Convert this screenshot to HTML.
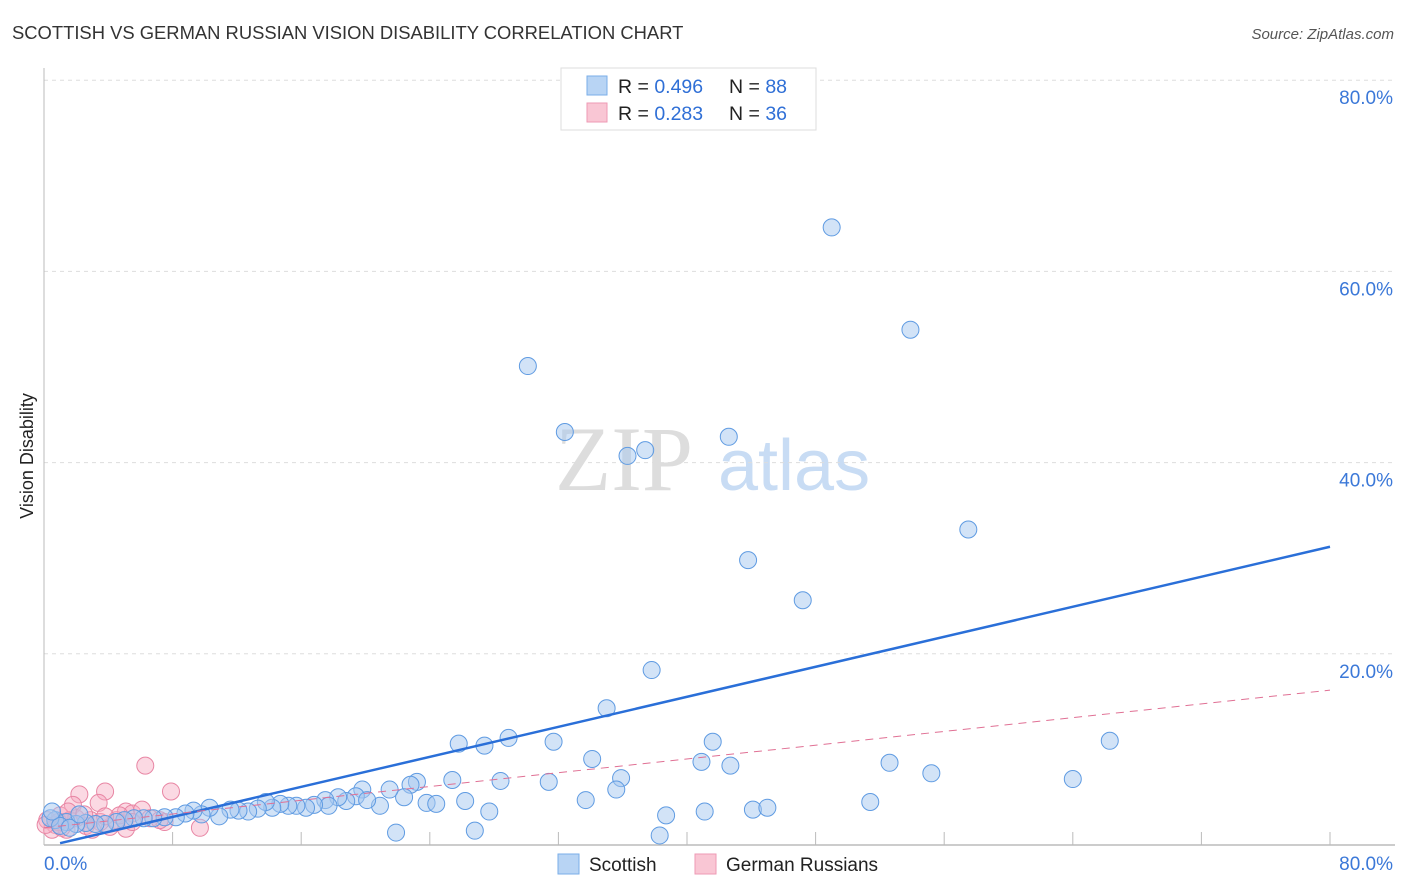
<!DOCTYPE html>
<html><head><meta charset="utf-8"><style>
body{margin:0;background:#fff;font-family:"Liberation Sans",sans-serif;}
svg{display:block}
</style></head><body>
<svg id="chart" width="1406" height="892">
<text x="12" y="39" font-size="18.4" fill="#333">SCOTTISH VS GERMAN RUSSIAN VISION DISABILITY CORRELATION CHART</text>
<text x="1394" y="39" font-size="15" fill="#555" font-style="italic" text-anchor="end">Source: ZipAtlas.com</text>
<text x="0" y="0" transform="translate(33,456) rotate(-90)" font-size="18" fill="#222" text-anchor="middle">Vision Disability</text>
<g><text x="555" y="490" font-size="92" font-family="Liberation Serif,serif" fill="#ddd">ZIP</text><text x="718" y="490" font-size="72" fill="#c8dcf4">atlas</text></g>
<g id="grid"></g>
<g id="axes"></g>
<g id="pts"></g>
<g id="lines"></g>
<g>
<rect x="561" y="68" width="255" height="62" fill="#fff" stroke="#ddd"/>
<rect x="587" y="76" width="20" height="19" fill="#b8d4f4" stroke="#7aaee8"/>
<rect x="587" y="103" width="20" height="19" fill="#f9c6d4" stroke="#ee9ab4"/>
<text x="618" y="93" font-size="19.5" fill="#222">R = <tspan fill="#2f6fd6">0.496</tspan><tspan x="729">N = </tspan><tspan fill="#2f6fd6">88</tspan></text>
<text x="618" y="120" font-size="19.5" fill="#222">R = <tspan fill="#2f6fd6">0.283</tspan><tspan x="729">N = </tspan><tspan fill="#2f6fd6">36</tspan></text>
</g>
<g>
<rect x="558" y="854" width="21" height="20" fill="#b8d4f4" stroke="#7aaee8"/>
<text x="589" y="871" font-size="19" fill="#222">Scottish</text>
<rect x="695" y="854" width="21" height="20" fill="#f9c6d4" stroke="#ee9ab4"/>
<text x="726" y="871" font-size="19" fill="#222">German Russians</text>
</g>
</svg>
<script>
const yTicks=[20,40,60,80];
const xTickLabels=["0.0%","80.0%"];
const blueX=[49.0,53.9,30.1,32.4,36.3,37.4,42.6,57.5,43.8,47.2,37.8,35.0,28.9,25.8,27.4,31.7,41.6,66.3,34.1,40.9,42.7,52.6,55.2,64.0,35.9,35.6,28.4,25.4,31.4,23.2,22.8,33.7,26.2,27.7,23.8,24.4,22.4,20.9,21.5,19.8,19.4,20.1,18.8,18.3,17.5,17.7,16.8,16.3,15.7,15.2,14.7,14.2,13.8,13.3,12.7,12.1,11.6,10.9,10.3,9.8,9.3,8.8,8.2,7.5,6.8,6.2,5.6,5.0,4.5,3.8,3.2,2.6,2.0,1.4,0.7,0.4,1.0,1.6,21.9,26.8,38.3,38.7,41.1,44.1,45.0,51.4,0.5,2.2];
const blueY=[64.6,53.9,50.1,43.2,40.7,41.3,42.7,33.0,29.8,25.6,18.3,14.3,11.2,10.6,10.4,10.8,10.8,10.9,9.0,8.7,8.3,8.6,7.5,6.9,7.0,5.8,6.7,6.8,6.6,6.6,6.3,4.7,4.6,3.5,4.4,4.3,5.0,4.1,5.8,5.8,5.1,4.7,4.6,5.0,4.7,4.1,4.2,3.9,4.1,4.1,4.3,3.9,4.5,3.8,3.5,3.6,3.7,3.0,3.9,3.2,3.6,3.3,2.9,2.9,2.8,2.8,2.8,2.6,2.4,2.2,2.2,2.3,2.2,2.4,2.6,2.8,2.0,1.8,1.3,1.5,1.0,3.1,3.5,3.7,3.9,4.5,3.5,3.2];
const pinkX=[6.3,2.2,3.8,7.9,3.4,1.8,5.1,5.5,6.1,7.5,9.7,5.1,4.1,1.0,1.2,0.7,0.2,1.6,2.9,3.5,4.5,5.5,2.6,2.0,0.5,1.4,3.0,0.9,6.6,7.2,4.7,1.5,2.5,0.1,1.1,3.8];
const pinkY=[8.3,5.3,5.6,5.6,4.4,4.2,3.5,3.3,3.7,2.4,1.8,1.7,1.9,3.1,2.4,2.1,2.6,2.6,2.6,2.4,2.6,2.4,2.0,2.8,1.6,1.6,1.6,2.4,2.8,2.6,3.1,3.5,3.2,2.1,1.8,3.0];
const blueFit=[-0.2,31.2];
const pinkFit=[1.8,16.2];
const NS="http://www.w3.org/2000/svg";
const X=v=>44+v*16.075, Y=v=>845-v*9.56;
function mk(t,a,p){const e=document.createElementNS(NS,t);for(const k in a)e.setAttribute(k,a[k]);p.appendChild(e);return e;}
const grid=document.getElementById('grid'),axes=document.getElementById('axes'),pts=document.getElementById('pts'),lines=document.getElementById('lines');
yTicks.forEach(t=>{
 const l=mk('line',{x1:44,x2:1395,y1:Y(t),y2:Y(t),stroke:'#ddd','stroke-dasharray':'4,4'},grid);
 
 
 const tx=mk('text',{x:1393,y:Y(t)+24,'font-size':19,fill:'#3b78d8','text-anchor':'end'},grid);
 tx.textContent=t.toFixed(1)+'%';
 
 
});
mk('line',{x1:44,x2:44,y1:68,y2:845,stroke:'#bbb'},axes);
mk('line',{x1:44,x2:1395,y1:845,y2:845,stroke:'#bbb','stroke-width':1.5},axes);
for(let i=1;i<=10;i++){mk('line',{x1:X(i*8),x2:X(i*8),y1:832,y2:845,stroke:'#bbb'},axes);}
const xl0=mk('text',{x:44,y:870,'font-size':19,fill:'#3b78d8'},axes);xl0.textContent=xTickLabels[0];


const xl1=mk('text',{x:1393,y:870,'font-size':19,fill:'#3b78d8','text-anchor':'end'},axes);xl1.textContent=xTickLabels[1];


pinkX.forEach((v,i)=>{const c=mk('circle',{cx:X(v),cy:Y(pinkY[i]),r:8.5,fill:'rgba(246,170,192,0.45)',stroke:'#e886a4','stroke-width':1},pts);
 
 });
blueX.forEach((v,i)=>{const c=mk('circle',{cx:X(v),cy:Y(blueY[i]),r:8.5,fill:'rgba(165,200,240,0.5)',stroke:'#5f9be2','stroke-width':1},pts);
 
 });
const bl=mk('line',{x1:X(1),y1:Y(blueFit[0]+(blueFit[1]-blueFit[0])/80),x2:X(80),y2:Y(blueFit[1]),stroke:'#2a6fd8','stroke-width':2.5},lines);


const pl=mk('line',{x1:X(0),y1:Y(pinkFit[0]),x2:X(80),y2:Y(pinkFit[1]),stroke:'#e07094','stroke-width':1,'stroke-dasharray':'8,6'},lines);


</script>
</body></html>
